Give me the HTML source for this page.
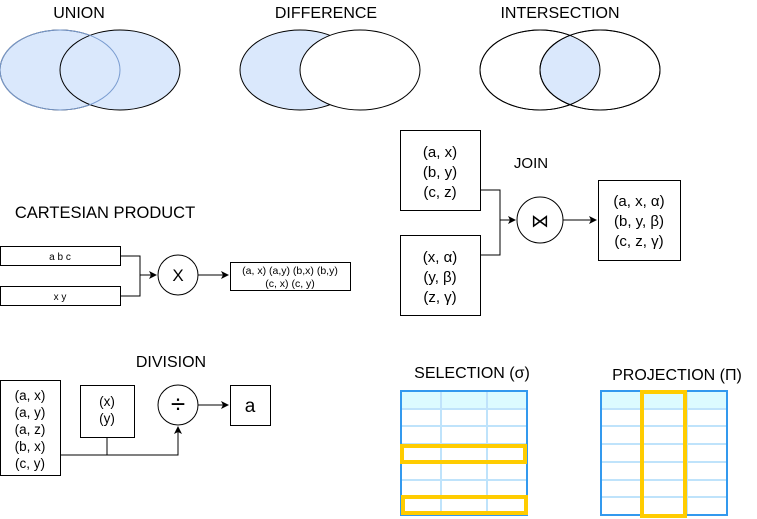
<!DOCTYPE html>
<html><head><style>body{margin:0;background:#fff}svg{display:block}text{font-family:"Liberation Sans",sans-serif;fill:#000}</style></head><body>
<svg width="757" height="519" viewBox="0 0 757 519" xmlns="http://www.w3.org/2000/svg">
<defs><marker id="a" markerWidth="8" markerHeight="8" refX="7" refY="4" orient="auto" markerUnits="userSpaceOnUse"><path d="M0,0L8,4L0,8L2,4z" fill="#000"/></marker>
<clipPath id="c1"><ellipse cx="540" cy="70" rx="60" ry="40"/></clipPath></defs>
<g font-size="16" text-anchor="middle">
<text x="79" y="18">UNION</text><text x="326" y="18">DIFFERENCE</text><text x="560" y="18">INTERSECTION</text>
</g>
<g stroke="#000" stroke-width="1">
<ellipse cx="60" cy="70" rx="60" ry="40" fill="#dae8fc"/>
<ellipse cx="120" cy="70" rx="60" ry="40" fill="#dae8fc"/>
<ellipse cx="60" cy="70" rx="60" ry="40" fill="none" stroke="#7a9cd0"/>
<ellipse cx="300" cy="70" rx="60" ry="40" fill="#dae8fc"/>
<ellipse cx="360" cy="70" rx="60" ry="40" fill="#fff"/>
<ellipse cx="540" cy="70" rx="60" ry="40" fill="#fff"/>
<ellipse cx="600" cy="70" rx="60" ry="40" fill="#fff"/>
<ellipse cx="600" cy="70" rx="60" ry="40" fill="#dae8fc" clip-path="url(#c1)"/>
<ellipse cx="540" cy="70" rx="60" ry="40" fill="none"/>
<ellipse cx="600" cy="70" rx="60" ry="40" fill="none"/>
</g>
<text x="105" y="218" font-size="16.5" text-anchor="middle">CARTESIAN PRODUCT</text>
<g stroke="#000" fill="#fff">
<rect x="0.5" y="246.5" width="120" height="19"/><rect x="0.5" y="286.5" width="120" height="19"/>
<path d="M120,256H140V296H120M140,275H156" fill="none" marker-end="url(#a)"/>
<circle cx="178" cy="275" r="20"/>
<path d="M198,275H228" fill="none" marker-end="url(#a)"/>
<rect x="230.5" y="262.5" width="120" height="28"/>
</g>
<g text-anchor="middle">
<text x="60" y="260" font-size="10">a b c</text><text x="60" y="300" font-size="10">x y</text>
<text x="178" y="281" font-size="17">X</text>
<text x="290" y="274" font-size="10.5">(a, x) (a,y) (b,x) (b,y)</text><text x="290" y="287" font-size="10.5">(c, x) (c, y)</text>
</g>
<text x="531" y="168" font-size="15" text-anchor="middle">JOIN</text>
<g stroke="#000" fill="#fff">
<rect x="400.5" y="130.5" width="80" height="80"/><rect x="400.5" y="235.5" width="80" height="80"/>
<path d="M480,190H500V255H480M500,220H515" fill="none" marker-end="url(#a)"/>
<circle cx="540" cy="220" r="23"/>
<path d="M563,220H596" fill="none" marker-end="url(#a)"/>
<rect x="598.5" y="180.5" width="82" height="80"/>
</g>
<g text-anchor="middle" font-size="15">
<text x="440" y="157">(a, x)</text><text x="440" y="177">(b, y)</text><text x="440" y="197">(c, z)</text>
<text x="440" y="262">(x, α)</text><text x="440" y="282">(y, β)</text><text x="440" y="302">(z, γ)</text>
<text x="540" y="227" font-size="18">⋈</text>
<text x="639" y="206">(a, x, α)</text><text x="639" y="226">(b, y, β)</text><text x="639" y="246">(c, z, γ)</text>
</g>
<text x="171" y="367" font-size="16" text-anchor="middle">DIVISION</text>
<g stroke="#000" fill="#fff">
<rect x="0.5" y="380.5" width="60" height="95"/><rect x="80.5" y="385.5" width="54" height="52"/>
<path d="M107,437V455" fill="none"/>
<path d="M60,455H178V427" fill="none" marker-end="url(#a)"/>
<circle cx="178" cy="405" r="20"/>
<path d="M198,405H228" fill="none" marker-end="url(#a)"/>
<rect x="230.5" y="385.5" width="40" height="40"/>
</g>
<g text-anchor="middle" font-size="13.5">
<text x="30" y="400">(a, x)</text><text x="30" y="417">(a, y)</text><text x="30" y="434">(a, z)</text><text x="30" y="451">(b, x)</text><text x="30" y="468">(c, y)</text>
<text x="107" y="406">(x)</text><text x="107" y="423">(y)</text>
<text x="178" y="413" font-size="26">÷</text>
<text x="250" y="412" font-size="19">a</text>
</g>
<g text-anchor="middle" font-size="16"><text x="472" y="378">SELECTION (σ)</text><text x="677" y="380">PROJECTION (Π)</text></g>
<g id="t1">
<rect x="401" y="391" width="126" height="124" fill="#fff" stroke="#3399ee" stroke-width="2"/>
<rect x="402" y="392" width="124" height="17" fill="#dcfbff"/>
<g stroke="#bfe3fb" stroke-width="2">
<path d="M402,409H526M402,426H526M402,444H526M402,462H526M402,480H526M402,497H526M441,392V514M487,392V514"/>
</g>
</g>
<use href="#t1" x="200"/>
<g fill="none" stroke="#ffcc00" stroke-width="4">
<rect x="402" y="446" width="123" height="16"/><rect x="403" y="497" width="123" height="16"/>
<rect x="642" y="392" width="43" height="124"/>
</g>
</svg>
</body></html>
